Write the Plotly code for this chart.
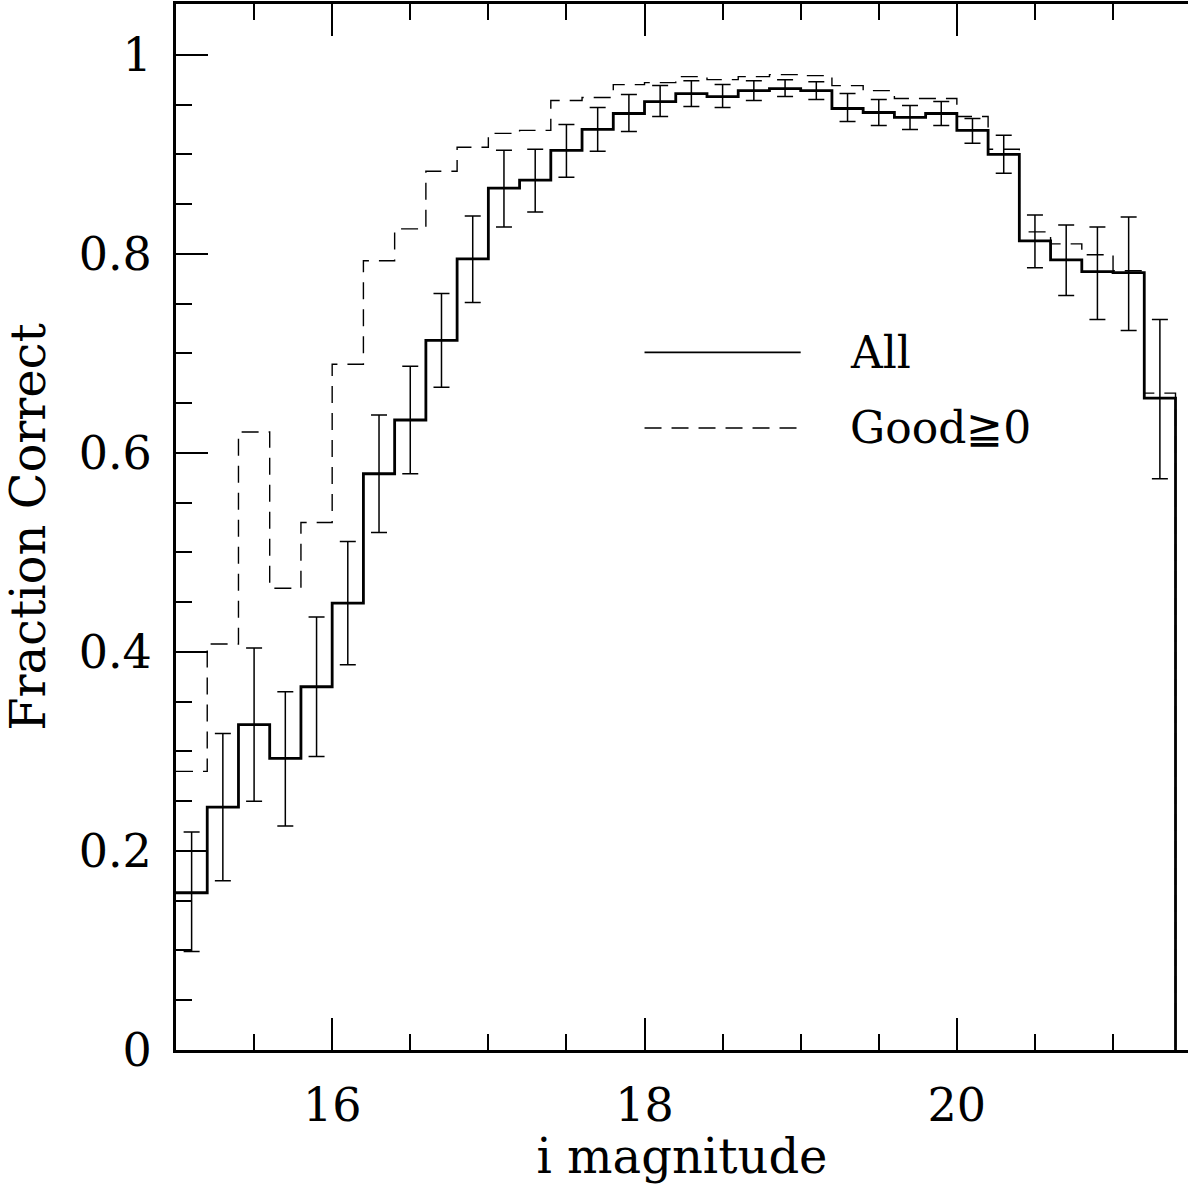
import plotly.graph_objects as go

# bin edges (i magnitude), width 0.2 from 15.0 to 21.4
bin_edges = [round(15.0 + 0.2 * i, 1) for i in range(33)]
bin_centers = [round(15.1 + 0.2 * i, 1) for i in range(32)]

# "All" fraction correct
all_frac = [0.158, 0.244, 0.327, 0.293, 0.365, 0.449, 0.579, 0.633, 0.713, 0.795,
            0.866, 0.874, 0.904, 0.925, 0.941, 0.953, 0.961, 0.958, 0.964, 0.966,
            0.964, 0.946, 0.942, 0.937, 0.941, 0.924, 0.900, 0.813, 0.794, 0.782,
            0.781, 0.655]
# upper / lower ends of error bars
all_upper = [0.219, 0.318, 0.404, 0.360, 0.435, 0.511, 0.638, 0.687, 0.760, 0.838,
             0.904, 0.905, 0.930, 0.947, 0.960, 0.969, 0.974, 0.970, 0.974, 0.975,
             0.973, 0.961, 0.955, 0.949, 0.953, 0.936, 0.919, 0.839, 0.829, 0.827,
             0.837, 0.734]
all_lower = [0.099, 0.170, 0.250, 0.225, 0.295, 0.387, 0.520, 0.579, 0.666, 0.751,
             0.827, 0.842, 0.877, 0.903, 0.923, 0.938, 0.948, 0.947, 0.954, 0.958,
             0.955, 0.933, 0.929, 0.925, 0.929, 0.911, 0.881, 0.786, 0.758, 0.734,
             0.723, 0.574]

# "Good>=0" fraction correct
good_frac = [0.280, 0.408, 0.621, 0.464, 0.530, 0.689, 0.793, 0.825, 0.883, 0.907,
             0.921, 0.924, 0.954, 0.957, 0.970, 0.972, 0.978, 0.975, 0.978, 0.980,
             0.979, 0.969, 0.964, 0.956, 0.956, 0.938, 0.905, 0.822, 0.810, 0.799,
             0.783, 0.660]

x_tickvals = [16, 18, 20]
x_ticktext = ["16", "18", "20"]
y_tickvals = [0, 0.2, 0.4, 0.6, 0.8, 1.0]
y_ticktext = ["0", "0.2", "0.4", "0.6", "0.8", "1"]

legend_labels = ["All", "Good≧0"]

FONT = "DejaVu Serif"

err_plus = [u - v for u, v in zip(all_upper, all_frac)]
err_minus = [v - l for v, l in zip(all_frac, all_lower)]

fig = go.Figure()

fig.add_trace(go.Scatter(
    x=bin_edges, y=good_frac + [0.0], mode="lines", line_shape="hv",
    line=dict(color="black", width=1.4, dash="17px,10px"), showlegend=False))

fig.add_trace(go.Scatter(
    x=bin_edges, y=all_frac + [0.0], mode="lines", line_shape="hv",
    line=dict(color="black", width=2.8), showlegend=False))

fig.add_trace(go.Scatter(
    x=bin_centers, y=all_frac, mode="markers",
    marker=dict(size=1, color="rgba(0,0,0,0)"),
    error_y=dict(type="data", symmetric=False, array=err_plus, arrayminus=err_minus,
                 color="black", thickness=1.5, width=8),
    showlegend=False))

# legend drawn inside the plot
leg_x0, leg_x1, leg_tx = 18.0, 19.0, 19.3
leg_y = [0.701, 0.625]
fig.add_shape(type="line", x0=leg_x0, x1=leg_x1, y0=leg_y[0], y1=leg_y[0],
              xref="x", yref="y", line=dict(color="black", width=1.6))
fig.add_shape(type="line", x0=leg_x0, x1=leg_x1, y0=leg_y[1], y1=leg_y[1],
              xref="x", yref="y", line=dict(color="black", width=1.4, dash="17px,10px"))
for lab, yy in zip(legend_labels, leg_y):
    fig.add_annotation(x=leg_tx, y=yy, xref="x", yref="y", text=lab, showarrow=False,
                       xanchor="left", yanchor="middle",
                       font=dict(family=FONT, size=44, color="black"))

axis_common = dict(showline=True, linecolor="black", linewidth=3, ticks="inside",
                   tickcolor="black", tickwidth=2, ticklen=32, showgrid=False,
                   zeroline=False, tickfont=dict(family=FONT, size=46, color="black"))

fig.update_xaxes(range=[15.0, 21.48], tickvals=x_tickvals, ticktext=x_ticktext,
                 mirror="ticks", ticklabelstandoff=13,
                 minor=dict(dtick=0.5, tick0=15.0, ticks="inside", ticklen=16,
                            tickwidth=2, tickcolor="black"),
                 title=dict(text="i magnitude", font=dict(family=FONT, size=48, color="black"),
                            standoff=14),
                 **axis_common)
fig.update_yaxes(range=[0, 1.051], tickvals=y_tickvals, ticktext=y_ticktext,
                 ticklabelstandoff=12,
                 minor=dict(dtick=0.05, tick0=0, ticks="inside", ticklen=16,
                            tickwidth=2, tickcolor="black"),
                 title=dict(text="Fraction Correct", font=dict(family=FONT, size=48, color="black"),
                            standoff=26),
                 **axis_common)

fig.update_layout(width=1188, height=1184,
                  margin=dict(l=176, r=0, t=4, b=134),
                  plot_bgcolor="white", paper_bgcolor="white", showlegend=False)

fig.write_html("out.html")
